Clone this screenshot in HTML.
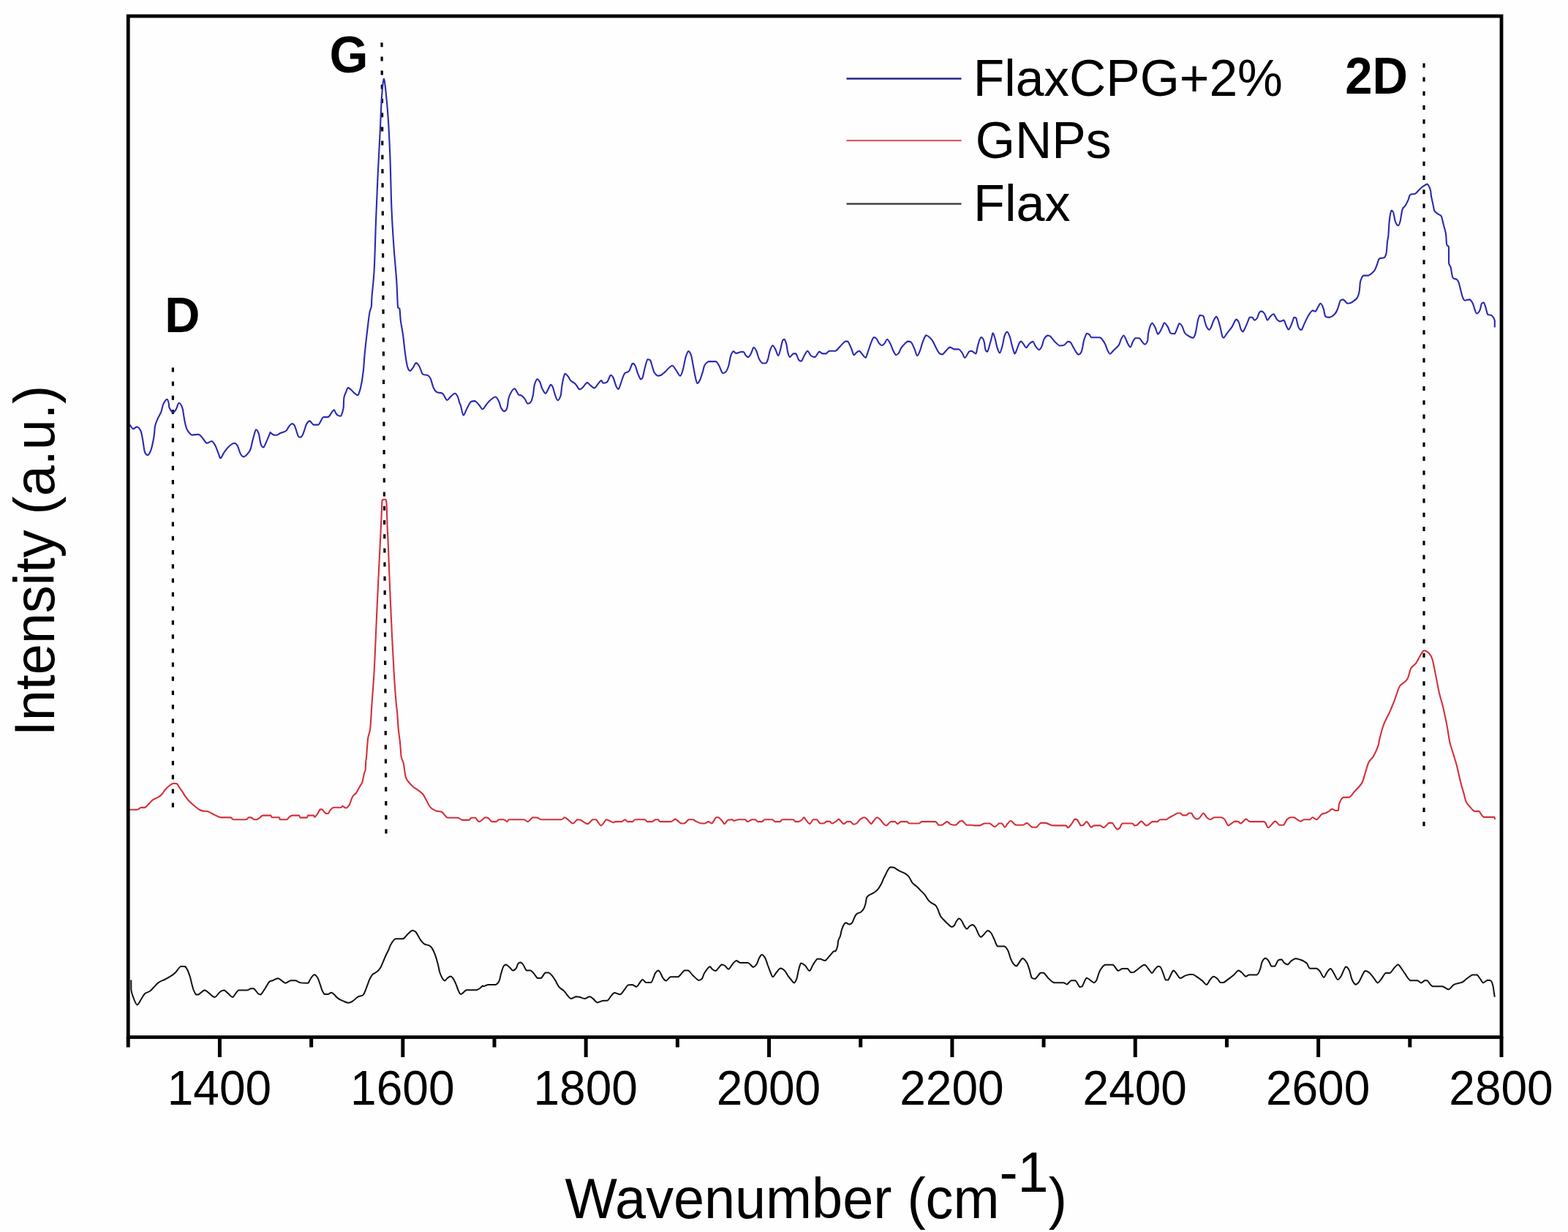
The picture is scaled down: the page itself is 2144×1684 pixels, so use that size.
<!DOCTYPE html>
<html><head><meta charset="utf-8"><title>Raman spectra</title>
<style>html,body{margin:0;padding:0;background:#fefefe;overflow:hidden}svg{display:block}</style>
</head><body><svg width="2144" height="1684" viewBox="0 0 2144 1684" font-family="Liberation Sans, Arial, sans-serif"><rect x="0" y="0" width="2144" height="1684" fill="#fefefe"/><line x1="236.4" y1="502.4" x2="236.4" y2="1106.0" stroke="#000" stroke-width="3.2" stroke-dasharray="6 13.2"/><line x1="522.0" y1="58.2" x2="528.0" y2="1140.0" stroke="#000" stroke-width="3.2" stroke-dasharray="6 13.2"/><line x1="1947.0" y1="86.4" x2="1947.0" y2="1130.0" stroke="#000" stroke-width="3.2" stroke-dasharray="6 13.2"/><path d="M177.5 580.6C178.2 581.6 180.5 585.8 182.1 586.2C183.8 586.2 185.5 583.4 187.3 583.4C189.0 583.9 191.1 586.1 192.4 589.0C193.7 592.0 194.3 596.3 195.2 601.2C196.1 606.0 196.8 614.4 198.0 617.9C199.2 621.4 200.8 622.1 202.2 622.1C203.6 621.7 205.2 618.2 206.4 615.1C207.5 612.1 208.4 607.7 209.2 604.0C210.0 600.2 210.6 596.3 211.0 592.8C211.5 589.2 211.2 585.9 212.0 582.5C212.8 579.1 214.3 575.5 215.7 572.2C217.1 569.0 219.1 566.2 220.4 562.9C221.6 559.6 221.9 555.5 223.2 552.6C224.5 549.8 227.1 546.0 228.3 545.7C229.5 545.7 230.1 548.8 230.6 550.8C231.2 552.7 230.6 555.1 231.6 557.3C232.6 559.5 235.1 563.5 236.7 563.8C238.3 563.8 239.6 561.4 240.9 559.2C242.2 557.0 243.2 551.1 244.6 550.8C246.0 550.8 248.2 554.5 249.3 557.3C250.4 560.1 250.5 564.2 251.2 567.6C251.8 571.0 252.2 574.6 253.0 577.8C253.8 581.1 254.3 584.4 255.8 587.2C257.4 590.0 259.7 593.5 262.4 594.6C265.0 594.6 269.2 593.7 271.7 593.7C274.2 594.5 275.4 597.3 277.3 599.3C279.1 601.3 280.9 605.2 282.9 605.8C284.9 605.8 287.5 603.0 289.4 603.0C291.3 603.5 292.5 605.8 294.1 608.6C295.6 611.4 297.5 616.9 298.7 619.8C300.0 622.8 300.3 626.3 301.5 626.3C302.8 626.2 304.5 621.4 306.2 618.9C307.9 616.4 309.5 613.6 311.8 611.4C314.1 609.2 318.0 606.1 320.2 605.8C322.4 605.8 323.5 607.2 324.9 609.6C326.2 611.9 327.2 617.3 328.6 619.8C330.0 622.3 331.1 624.5 333.2 624.5C335.4 623.9 339.6 619.8 341.6 616.1C343.7 612.4 344.0 606.9 345.4 602.1C346.8 597.3 348.6 588.7 350.0 587.2C351.4 587.2 352.7 589.5 353.8 592.8C354.9 596.0 355.5 603.6 356.6 606.8C357.7 609.9 358.9 611.4 360.3 611.4C361.7 610.6 363.4 605.5 365.0 602.1C366.5 598.7 368.8 592.7 369.6 590.9C369.7 590.9 369.6 590.9 369.7 591.4C370.6 592.1 373.3 594.3 374.9 594.8C376.5 594.8 377.9 594.8 379.4 594.4C380.9 593.9 381.9 592.7 383.9 591.8C385.9 590.9 389.5 590.3 391.3 588.8C393.2 587.3 393.7 584.5 395.1 582.8C396.4 581.2 398.3 579.4 399.6 579.1C400.8 579.1 401.5 579.6 402.5 581.3C403.5 583.1 404.7 587.1 405.5 589.6C406.4 592.0 406.9 594.9 407.8 596.3C408.6 597.6 409.8 597.8 410.7 597.8C411.7 597.5 412.7 596.6 413.7 594.8C414.7 592.9 415.8 589.1 416.7 586.6C417.6 584.1 417.8 581.7 419.0 579.9C420.1 578.0 421.8 575.4 423.4 575.4C425.0 575.5 426.7 579.7 428.7 580.6C430.6 580.6 433.6 580.6 435.4 580.6C437.1 579.6 438.0 576.4 439.1 574.6C440.2 572.9 440.5 570.9 442.1 570.1C443.7 570.1 446.7 570.1 448.8 570.1C450.9 568.8 453.4 563.6 454.8 561.9C456.1 560.4 456.3 560.4 457.0 560.4C457.8 560.9 458.4 563.7 459.3 564.9C460.1 566.2 461.1 567.3 462.2 567.9C463.4 568.5 465.0 568.7 466.0 568.7C467.0 567.9 467.6 565.4 468.2 563.4C468.8 561.4 469.3 560.1 469.7 556.7C470.1 553.4 469.8 546.9 470.4 543.3C471.1 539.7 472.6 537.3 473.4 535.1C474.3 532.8 474.7 530.3 475.7 529.9C476.7 529.9 478.0 531.0 479.4 532.1C480.8 533.2 482.3 535.2 483.9 536.6C485.5 537.9 487.7 540.3 489.1 540.3C490.5 539.8 491.2 536.3 492.1 533.6C493.0 530.8 493.9 525.8 494.3 523.9C494.7 522.3 494.3 523.9 494.7 522.3C495.1 519.2 496.3 511.5 497.0 505.3C497.6 499.2 497.9 492.2 498.5 485.3C499.2 478.3 500.1 470.6 500.8 463.7C501.6 456.7 502.4 449.8 503.2 443.6C503.9 437.4 504.7 430.7 505.5 426.6C506.2 422.5 507.3 422.7 507.8 418.9C508.3 415.1 507.9 412.5 508.6 404.0C509.3 395.5 510.8 385.0 511.7 368.0C512.6 351.0 513.2 323.3 514.0 302.0C514.8 280.7 515.6 260.3 516.6 240.0C517.6 219.7 518.8 198.2 519.7 180.0C520.6 161.8 521.2 143.0 522.1 131.0C523.0 119.0 523.9 109.1 524.8 107.8C525.7 107.8 526.3 114.1 527.3 123.0C528.3 131.9 529.7 145.7 530.7 161.0C531.7 176.3 532.6 194.0 533.4 215.0C534.2 236.0 534.6 266.3 535.5 287.0C536.4 307.7 537.5 323.0 538.6 339.0C539.7 355.0 541.3 369.4 542.2 383.0C543.1 396.6 543.4 413.9 544.1 420.4C544.8 422.0 545.7 420.4 546.4 422.0C547.0 425.1 547.2 433.0 547.9 439.0C548.7 444.9 550.1 451.0 551.0 457.5C551.9 463.9 552.6 471.4 553.3 477.6C554.1 483.7 554.9 490.2 555.7 494.5C556.4 498.9 557.1 501.7 558.0 503.8C558.9 505.9 559.9 506.9 561.1 506.9C562.2 506.6 563.6 504.1 564.9 502.3C566.2 500.5 567.4 496.3 568.8 496.1C570.2 496.1 571.9 498.1 573.4 500.7C575.0 503.3 576.1 509.5 578.0 511.5C580.0 513.1 583.2 512.0 585.0 513.1C586.8 514.1 587.6 514.9 588.8 517.7C590.1 520.5 591.3 527.0 592.7 530.0C594.1 533.1 595.3 534.9 597.3 536.2C599.4 537.5 602.7 536.2 605.1 537.8C607.4 539.6 609.4 546.3 611.2 547.0C613.0 547.0 614.1 543.9 615.9 542.4C617.7 540.9 620.4 537.8 622.0 537.8C623.7 537.8 624.9 540.3 625.9 542.4C626.9 544.5 627.5 548.1 628.2 550.1C628.9 552.2 629.1 551.7 630.0 554.6C630.9 557.6 632.3 567.1 633.7 567.7C635.1 567.7 636.7 561.5 638.4 558.4C640.1 555.2 642.1 550.7 644.0 549.0C645.9 548.1 647.7 548.1 649.6 548.1C651.5 548.9 653.5 551.8 655.2 553.7C656.9 555.6 658.3 559.3 659.9 559.3C661.4 559.3 662.8 555.7 664.5 553.7C666.2 551.7 667.9 549.0 670.1 547.2C672.3 545.3 675.6 542.5 677.6 542.5C679.6 542.8 681.0 546.5 682.2 549.0C683.5 551.5 683.8 555.2 685.0 557.4C686.3 559.6 688.3 562.1 689.7 562.1C691.1 562.1 692.5 560.2 693.4 557.4C694.4 554.6 694.4 548.9 695.3 545.3C696.2 541.7 697.6 538.3 699.0 536.0C700.4 533.6 702.0 531.3 703.7 531.3C705.4 531.9 707.7 538.1 709.3 539.7C710.8 540.6 711.6 539.7 713.0 540.6C714.4 541.6 716.3 543.4 717.7 545.3C719.1 547.2 720.0 551.2 721.4 551.8C722.8 551.8 724.8 551.1 726.1 549.0C727.3 547.0 728.1 543.4 728.9 539.7C729.7 536.0 729.8 530.2 730.7 526.6C731.7 523.1 733.2 519.0 734.5 518.2C735.7 518.2 737.1 520.0 738.2 522.0C739.3 524.0 739.8 527.7 741.0 530.4C742.3 533.0 744.3 537.5 745.7 537.8C747.1 537.8 748.2 534.3 749.4 532.2C750.6 530.2 752.0 526.2 753.1 525.7C754.2 525.7 755.0 527.3 755.9 529.4C756.9 531.6 757.6 535.8 758.7 538.8C759.8 541.7 761.1 546.9 762.5 547.2C763.8 547.2 765.7 543.6 766.7 540.6C767.6 537.7 767.5 533.0 768.1 529.4C768.6 525.9 769.1 522.3 769.9 519.2C770.7 516.1 771.5 511.4 772.7 510.8C774.0 510.8 776.1 513.9 777.4 515.4C778.6 517.0 778.6 518.6 780.2 520.1C781.7 521.7 784.7 522.8 786.7 524.8C788.7 526.8 790.6 531.5 792.3 532.2C794.0 532.2 795.3 531.0 797.0 529.4C798.7 527.9 800.9 523.4 802.6 522.9C804.3 522.9 805.5 525.4 807.2 526.6C808.9 527.9 811.0 530.4 812.8 530.4C814.7 529.9 816.9 525.6 818.4 523.8C820.0 522.1 821.1 520.1 822.2 520.1C823.3 520.1 823.6 523.5 825.0 523.8C826.3 523.8 828.6 523.8 830.3 522.1C831.9 520.2 833.5 513.7 834.9 512.8C836.3 512.8 837.4 514.0 838.7 516.5C839.9 519.0 841.2 525.1 842.4 527.7C843.6 530.3 844.6 531.9 845.7 531.9C846.7 531.3 847.9 526.7 848.9 524.0C849.9 521.2 850.8 517.9 851.7 515.6C852.6 513.2 853.1 511.4 854.5 510.0C855.9 508.6 858.4 509.3 860.1 507.2C861.8 505.0 863.4 498.1 864.8 496.9C866.2 496.9 867.3 497.4 868.5 499.7C869.8 502.0 871.0 507.8 872.2 510.9C873.5 514.0 874.9 517.6 876.0 518.4C877.1 518.4 877.8 518.0 878.8 515.6C879.7 513.1 880.5 507.5 881.6 503.4C882.7 499.4 884.1 493.2 885.3 491.3C886.5 491.3 887.9 491.3 889.0 492.2C890.1 493.8 890.9 497.8 891.8 500.6C892.8 503.4 893.4 506.9 894.6 509.0C895.9 511.2 897.7 513.1 899.3 513.7C900.8 513.7 902.2 513.7 904.0 512.8C905.7 511.8 907.1 510.3 909.6 508.1C912.0 505.9 916.4 500.0 918.9 499.7C921.4 499.7 922.6 503.9 924.5 506.2C926.3 508.6 928.5 513.7 930.1 513.7C931.6 513.5 932.6 509.5 933.8 505.3C935.0 501.1 936.3 492.7 937.5 488.5C938.8 484.3 940.0 480.6 941.3 480.1C942.5 480.1 943.9 482.4 945.0 485.7C946.1 489.0 946.9 494.9 947.8 499.7C948.7 504.5 949.7 510.6 950.6 514.6C951.5 518.7 952.3 523.2 953.4 524.0C954.5 524.0 955.9 521.9 957.1 519.3C958.4 516.6 959.8 511.5 960.9 508.1C961.9 504.7 962.3 501.1 963.7 498.8C965.1 496.4 966.8 494.9 969.3 494.1C971.7 494.1 976.2 494.1 978.6 494.1C980.9 495.0 981.7 497.1 983.2 499.7C984.8 502.3 986.4 508.6 987.9 510.0C989.5 510.0 991.2 509.8 992.6 508.1C994.0 506.4 995.2 503.3 996.3 499.7C997.4 496.1 998.0 489.9 999.1 486.6C1000.2 483.4 1001.6 480.7 1002.8 480.1C1004.1 480.1 1004.9 482.8 1006.6 482.9C1008.3 482.9 1011.4 481.4 1013.1 481.0C1014.8 481.0 1015.7 481.0 1016.8 481.0C1017.9 481.8 1018.6 484.5 1019.6 485.7C1020.7 486.9 1021.9 488.1 1023.1 488.1C1024.3 487.7 1025.5 485.6 1026.8 483.4C1028.0 481.3 1029.3 475.7 1030.5 475.0C1031.8 475.0 1033.0 477.1 1034.3 479.7C1035.5 482.3 1036.6 488.1 1038.0 490.9C1039.4 493.7 1041.1 495.6 1042.6 496.5C1044.2 496.5 1046.1 496.5 1047.3 496.5C1048.6 495.6 1049.2 493.8 1050.1 490.9C1051.0 487.9 1051.8 481.9 1052.9 478.8C1054.0 475.7 1055.4 472.4 1056.6 472.2C1057.9 472.2 1059.1 475.5 1060.4 477.8C1061.6 480.2 1063.0 486.1 1064.1 486.2C1065.2 486.2 1066.0 482.0 1066.9 478.8C1067.8 475.5 1068.8 469.1 1069.7 466.6C1070.6 464.2 1071.6 463.8 1072.5 463.8C1073.4 464.5 1074.5 467.4 1075.3 470.4C1076.1 473.3 1076.4 478.6 1077.2 481.6C1077.9 484.5 1078.7 487.8 1080.0 488.1C1081.2 488.1 1083.2 484.2 1084.6 483.4C1086.0 483.4 1087.1 483.4 1088.4 483.4C1089.6 484.8 1090.8 490.1 1092.1 491.8C1093.3 493.5 1094.6 493.7 1095.8 493.7C1097.1 492.8 1098.2 488.6 1099.6 486.2C1101.0 483.9 1102.7 479.7 1104.2 479.7C1105.8 479.7 1107.2 484.8 1108.9 486.2C1110.6 487.6 1112.6 488.1 1114.5 488.1C1116.3 487.2 1118.4 481.4 1120.1 480.6C1121.8 480.6 1123.2 483.0 1124.7 483.4C1126.3 483.4 1127.8 483.4 1129.4 483.4C1131.0 482.8 1131.9 480.3 1134.1 479.7C1136.2 479.7 1140.0 479.7 1142.5 479.7C1145.0 478.6 1146.8 475.3 1149.0 473.2C1151.2 471.0 1153.8 467.7 1155.5 466.6C1157.2 466.6 1157.9 466.6 1159.3 466.6C1160.7 468.2 1162.5 472.9 1163.9 476.0C1165.3 479.1 1166.4 484.4 1167.6 485.3C1168.9 485.3 1170.1 482.5 1171.4 481.6C1172.6 480.6 1173.7 479.7 1175.1 479.7C1176.5 480.3 1178.4 483.7 1179.8 485.3C1181.2 486.9 1182.3 489.0 1183.5 489.0C1184.8 488.1 1186.0 483.1 1187.2 479.7C1188.5 476.3 1189.7 471.6 1191.0 468.5C1192.2 465.4 1193.5 462.0 1194.7 461.0C1195.9 461.0 1197.2 461.5 1198.4 462.9C1199.7 464.3 1200.9 467.9 1202.2 469.4C1203.4 471.0 1204.7 472.2 1205.9 472.2C1207.1 472.2 1208.4 470.8 1209.6 469.4C1210.8 468.0 1211.7 463.8 1213.1 463.8C1214.4 464.0 1216.3 467.7 1217.7 470.4C1219.1 473.0 1220.2 477.2 1221.5 479.7C1222.7 482.2 1223.9 484.8 1225.2 485.3C1226.4 485.3 1227.7 484.2 1228.9 482.5C1230.2 480.8 1230.6 477.7 1232.6 475.0C1234.7 472.4 1238.9 467.9 1241.0 466.6C1243.2 466.6 1244.2 466.6 1245.7 467.6C1247.3 469.3 1249.0 473.8 1250.4 476.9C1251.8 480.0 1252.9 485.8 1254.1 486.2C1255.3 486.2 1256.6 482.8 1257.8 479.7C1259.1 476.6 1260.2 471.2 1261.6 467.6C1263.0 464.0 1264.7 459.3 1266.2 458.2C1267.8 458.2 1269.3 459.6 1270.9 461.0C1272.5 462.4 1274.0 464.2 1275.6 466.6C1277.1 469.1 1278.8 473.3 1280.2 476.0C1281.6 478.6 1282.6 481.1 1284.0 482.5C1285.4 483.9 1287.1 484.4 1288.6 484.4C1290.2 483.9 1291.6 481.3 1293.3 479.7C1295.0 478.1 1297.0 475.0 1298.9 474.6C1300.7 474.6 1302.5 476.9 1304.5 477.4C1306.5 477.4 1309.1 477.4 1311.0 477.4C1312.9 478.2 1314.3 480.6 1315.7 482.5C1317.1 484.4 1317.8 489.0 1319.4 489.0C1321.0 488.7 1323.4 482.2 1325.0 480.6C1326.6 479.7 1327.2 479.7 1328.7 479.7C1330.3 480.2 1333.1 483.4 1334.3 483.4C1335.6 482.8 1335.4 478.9 1336.2 476.0C1337.0 473.0 1338.1 468.2 1339.0 465.7C1339.9 463.2 1340.7 461.0 1341.8 461.0C1342.9 461.2 1344.6 463.8 1345.5 466.6C1346.5 469.4 1346.6 475.5 1347.4 477.8C1348.2 480.2 1349.3 480.6 1350.2 480.6C1351.1 479.7 1352.1 475.3 1353.0 472.2C1353.9 469.1 1355.0 464.8 1355.8 462.0C1356.6 459.2 1356.9 455.4 1357.6 455.4C1358.4 455.4 1359.5 458.9 1360.4 462.0C1361.4 465.1 1362.2 470.7 1363.2 474.1C1364.3 477.5 1365.7 482.5 1367.0 482.5C1368.2 482.2 1369.6 476.1 1370.7 472.2C1371.8 468.4 1372.4 462.3 1373.5 459.2C1374.6 456.1 1376.0 453.6 1377.2 453.6C1378.5 453.9 1379.9 457.9 1381.0 461.0C1382.1 464.2 1382.7 468.5 1383.8 472.2C1384.9 476.0 1386.4 482.5 1387.5 483.4C1388.6 483.4 1389.4 480.0 1390.3 477.8C1391.2 475.7 1392.2 472.2 1393.1 470.4C1394.0 468.5 1394.8 466.6 1395.9 466.6C1397.0 466.6 1398.4 468.9 1399.6 470.4C1400.8 471.8 1401.7 475.3 1403.1 475.3C1404.4 475.2 1406.2 471.1 1407.7 469.7C1409.3 468.3 1411.0 466.9 1412.4 466.9C1413.8 467.5 1414.7 471.6 1416.1 473.4C1417.5 475.3 1419.4 478.1 1420.8 478.1C1422.2 478.1 1423.4 475.8 1424.5 473.4C1425.6 471.1 1426.1 466.6 1427.3 464.1C1428.6 461.6 1430.6 459.3 1432.0 458.5C1433.4 458.5 1434.0 458.5 1435.7 459.4C1437.4 460.8 1440.1 464.7 1442.2 466.9C1444.4 469.1 1446.6 471.7 1448.8 472.5C1450.9 472.5 1453.4 472.5 1455.3 471.6C1457.2 470.6 1458.6 467.5 1460.0 466.9C1461.4 466.9 1462.5 466.9 1463.7 467.8C1464.9 469.1 1466.2 472.2 1467.4 474.4C1468.7 476.5 1469.9 479.2 1471.2 480.9C1472.4 482.6 1473.6 484.6 1474.9 484.6C1476.1 484.6 1477.7 482.8 1478.6 480.9C1479.6 479.0 1479.9 476.2 1480.5 473.4C1481.1 470.6 1481.4 467.1 1482.4 464.1C1483.3 461.2 1484.8 456.8 1486.1 455.7C1487.3 455.7 1488.7 456.6 1489.8 457.6C1490.9 458.5 1490.3 460.7 1492.6 461.3C1494.9 461.3 1501.2 461.3 1503.8 461.3C1506.4 462.1 1507.2 464.4 1508.5 466.0C1509.7 467.5 1510.3 468.6 1511.3 470.6C1512.2 472.7 1513.0 475.9 1514.1 478.1C1515.2 480.3 1516.4 483.5 1517.8 483.7C1519.2 483.7 1520.4 481.1 1522.5 479.0C1524.5 477.0 1528.2 474.1 1529.9 471.6C1531.6 469.1 1531.6 466.3 1532.7 464.1C1533.8 461.9 1535.4 458.7 1536.5 458.5C1537.5 458.5 1538.3 461.3 1539.3 463.2C1540.2 465.0 1541.0 467.8 1542.1 469.7C1543.1 471.6 1544.7 474.4 1545.8 474.4C1546.9 474.1 1547.5 469.9 1548.6 467.8C1549.7 465.8 1550.8 463.2 1552.3 462.2C1553.9 462.2 1556.4 462.2 1557.9 462.2C1559.5 463.0 1560.4 465.5 1561.6 466.9C1562.9 468.3 1564.1 470.6 1565.4 470.6C1566.6 470.5 1568.3 468.3 1569.1 466.0C1569.9 463.6 1569.4 460.1 1570.0 456.6C1570.7 453.2 1571.9 447.9 1572.8 445.4C1573.8 443.0 1574.5 441.7 1575.6 441.7C1576.7 442.0 1578.1 444.8 1579.4 447.3C1580.6 449.8 1582.0 455.6 1583.1 456.6C1584.2 456.6 1584.8 455.6 1585.9 453.8C1587.0 452.1 1588.6 448.5 1589.6 446.4C1590.7 444.3 1590.9 441.3 1592.1 441.3C1593.3 441.4 1595.4 444.6 1596.8 446.9C1598.2 449.2 1599.0 453.7 1600.5 455.3C1602.1 456.2 1604.7 456.2 1606.1 456.2C1607.5 455.5 1607.8 453.0 1608.9 450.6C1610.0 448.3 1611.4 443.0 1612.6 442.2C1613.9 442.2 1615.1 443.8 1616.4 446.0C1617.6 448.1 1618.7 453.1 1620.1 455.3C1621.5 457.5 1622.9 457.9 1624.8 459.0C1626.6 460.1 1629.8 461.8 1631.3 461.8C1632.9 461.5 1633.3 459.3 1634.1 457.2C1634.9 455.0 1635.3 451.9 1636.0 448.8C1636.6 445.7 1637.1 441.5 1637.8 438.5C1638.6 435.6 1639.4 432.1 1640.6 431.0C1641.9 431.0 1644.2 431.0 1645.3 432.0C1646.4 433.2 1646.4 436.0 1647.2 438.5C1647.9 441.0 1648.9 444.9 1650.0 446.9C1651.1 448.9 1652.6 450.6 1653.7 450.6C1654.8 450.5 1655.6 448.0 1656.5 446.0C1657.4 443.9 1658.2 440.7 1659.3 438.5C1660.4 436.3 1661.9 433.1 1663.0 432.9C1664.1 432.9 1664.9 435.1 1665.8 437.6C1666.8 440.1 1667.7 444.1 1668.6 447.8C1669.6 451.6 1670.6 457.6 1671.4 460.0C1672.2 461.8 1672.2 461.8 1673.3 461.8C1674.4 461.1 1676.1 457.8 1677.9 455.3C1679.8 452.8 1682.5 450.0 1684.5 446.9C1686.5 443.8 1688.5 437.7 1690.1 436.6C1691.6 436.6 1692.7 438.2 1693.8 440.4C1694.9 442.5 1695.7 447.5 1696.6 449.7C1697.5 451.9 1698.3 453.4 1699.4 453.4C1700.5 453.0 1702.0 449.1 1703.1 446.9C1704.2 444.7 1705.0 442.5 1705.9 440.4C1706.9 438.2 1707.6 434.9 1708.7 433.8C1709.8 433.8 1711.4 433.8 1712.5 433.8C1713.6 434.5 1714.2 437.4 1715.3 437.6C1716.3 437.6 1717.9 436.5 1719.0 434.8C1720.1 433.1 1720.7 428.9 1721.8 427.3C1722.9 425.8 1724.3 425.4 1725.5 425.4C1726.8 425.8 1728.0 427.2 1729.3 429.2C1730.5 431.2 1731.7 437.0 1733.0 437.6C1734.2 437.6 1735.3 434.3 1736.7 432.9C1738.1 431.5 1739.8 429.2 1741.4 429.2C1742.9 429.8 1744.5 434.9 1746.0 436.6C1747.6 438.4 1749.2 439.3 1750.7 439.4C1752.3 439.4 1754.0 437.6 1755.4 437.6C1756.8 438.7 1758.0 443.8 1759.1 446.0C1760.2 448.1 1760.8 450.6 1761.9 450.6C1763.0 450.3 1764.4 446.9 1765.6 444.1C1766.9 441.3 1768.3 435.4 1769.4 433.8C1770.5 433.8 1771.2 433.8 1772.2 434.8C1773.1 436.8 1774.0 443.3 1775.0 446.0C1775.9 448.6 1776.9 449.9 1777.8 450.6C1778.6 450.6 1779.0 450.6 1780.0 450.6C1781.0 449.2 1782.1 445.4 1783.7 442.1C1785.2 438.9 1787.3 434.2 1789.1 431.2C1790.9 428.3 1793.0 425.3 1794.6 424.4C1796.2 424.4 1796.9 425.7 1798.7 425.7C1800.5 424.2 1803.7 415.5 1805.5 414.8C1807.3 414.8 1808.5 418.7 1809.6 421.7C1810.7 424.6 1811.0 430.5 1812.3 432.6C1813.7 433.9 1815.8 433.9 1817.8 433.9C1819.9 433.5 1822.8 431.7 1824.6 429.8C1826.5 428.0 1827.4 426.2 1828.7 423.0C1830.1 419.8 1831.5 413.0 1832.8 410.7C1834.2 409.4 1835.3 409.4 1836.9 409.4C1838.5 410.0 1840.6 414.1 1842.4 414.8C1844.2 414.8 1845.6 414.8 1847.9 413.5C1850.1 412.1 1854.2 409.4 1856.0 406.6C1857.9 403.9 1858.1 400.7 1858.8 397.1C1859.5 393.4 1859.2 388.2 1860.1 384.8C1861.1 381.4 1862.4 377.9 1864.2 376.6C1866.1 376.6 1868.6 376.6 1871.1 376.6C1873.6 375.4 1877.2 372.5 1879.3 369.8C1881.3 367.0 1882.2 362.9 1883.4 360.2C1884.5 357.5 1884.5 354.7 1886.1 353.4C1887.7 352.0 1891.3 353.4 1892.9 352.0C1894.5 350.6 1895.0 348.8 1895.7 345.2C1896.3 341.5 1896.6 334.0 1897.0 330.1C1897.5 326.3 1897.9 326.7 1898.4 321.9C1898.8 317.2 1899.1 307.2 1899.8 301.5C1900.4 295.8 1901.6 289.6 1902.5 287.8C1903.4 287.8 1904.3 288.0 1905.2 290.5C1906.1 293.0 1906.8 299.9 1907.9 302.8C1909.1 305.8 1910.9 308.3 1912.0 308.3C1913.2 308.1 1913.9 305.1 1914.8 301.5C1915.7 297.8 1916.4 289.9 1917.5 286.4C1918.6 283.0 1920.2 283.3 1921.6 281.0C1923.0 278.7 1924.6 275.3 1925.7 272.8C1926.8 270.3 1926.8 267.3 1928.4 266.0C1930.0 264.6 1933.0 266.0 1935.3 264.6C1937.5 263.2 1940.0 259.6 1942.1 257.8C1944.1 255.9 1946.0 254.7 1947.6 253.7C1949.1 252.6 1950.3 251.6 1951.7 251.6C1953.0 252.5 1954.8 256.3 1955.7 259.1C1956.7 262.0 1956.4 265.0 1957.1 268.7C1957.8 272.3 1959.2 277.8 1959.8 281.0C1960.5 284.2 1960.3 286.0 1961.2 287.8C1962.1 289.6 1963.9 290.8 1965.3 291.9C1966.8 293.0 1968.9 293.7 1970.0 294.6C1971.0 295.5 1970.7 295.1 1971.4 297.4C1972.1 299.6 1973.2 304.6 1974.1 308.3C1975.1 311.9 1976.2 314.9 1976.9 319.2C1977.6 323.5 1977.6 331.1 1978.2 334.2C1978.9 337.4 1980.5 334.2 1981.0 338.3C1981.0 342.4 1981.0 354.3 1981.0 358.8C1981.4 363.4 1982.8 362.2 1983.7 365.7C1984.6 369.1 1985.1 376.6 1986.4 379.3C1987.8 382.0 1990.5 380.9 1991.9 382.0C1993.3 383.2 1993.7 383.6 1994.6 386.1C1995.5 388.6 1996.5 393.7 1997.4 397.1C1998.3 400.5 1999.2 404.4 2000.1 406.6C2001.0 408.9 2001.2 410.3 2002.8 410.7C2004.4 410.7 2007.8 409.4 2009.7 409.4C2011.5 410.0 2012.6 412.5 2013.8 414.8C2014.9 417.1 2015.6 420.7 2016.5 423.0C2017.4 425.3 2018.1 428.3 2019.2 428.5C2020.4 428.5 2022.2 426.7 2023.3 424.4C2024.5 422.1 2025.1 416.6 2026.0 414.8C2027.0 413.5 2027.9 413.5 2028.8 413.5C2029.7 414.4 2030.6 417.6 2031.5 420.3C2032.4 423.0 2032.9 428.0 2034.2 429.8C2035.6 431.2 2038.1 429.8 2039.7 431.2C2041.3 432.6 2043.1 435.3 2043.8 438.0C2043.8 440.8 2043.8 446.0 2043.8 447.6" fill="none" stroke="#2a2ab0" stroke-width="2.1" stroke-linejoin="round"/><path d="M176.5 1106.7C178.4 1106.7 185.1 1106.7 187.7 1106.7C190.4 1106.2 190.7 1104.4 192.4 1103.9C194.1 1103.9 196.3 1103.9 198.0 1103.9C199.7 1103.2 200.8 1101.5 202.6 1099.7C204.5 1097.9 206.8 1094.9 209.2 1093.2C211.5 1091.5 214.6 1090.7 216.6 1089.4C218.7 1088.2 219.8 1087.4 221.3 1085.7C222.9 1084.0 224.3 1081.1 226.0 1079.2C227.7 1077.2 229.7 1075.4 231.6 1074.0C233.4 1072.6 235.5 1071.2 237.2 1070.8C238.9 1070.8 240.6 1070.8 241.8 1071.2C243.1 1072.0 243.4 1073.7 244.6 1075.4C245.9 1077.2 247.7 1079.6 249.3 1082.0C250.8 1084.3 252.2 1087.1 254.0 1089.4C255.7 1091.8 257.4 1093.8 259.6 1096.0C261.7 1098.1 264.8 1100.7 267.0 1102.5C269.2 1104.3 270.7 1105.7 272.6 1106.7C274.5 1107.7 276.3 1108.2 278.2 1108.6C280.1 1109.0 281.9 1108.6 283.8 1109.0C285.7 1109.6 287.5 1110.9 289.4 1111.8C291.3 1112.8 292.8 1113.7 295.0 1114.6C297.2 1115.6 299.0 1117.0 302.5 1117.4C305.9 1117.4 312.7 1117.4 315.5 1117.4C318.3 1117.9 315.8 1119.8 319.3 1120.2C322.7 1120.2 332.6 1120.2 336.0 1120.2C339.5 1119.8 338.5 1117.9 339.8 1117.4C341.0 1117.4 342.3 1117.4 343.5 1117.4C344.8 1117.9 346.0 1119.8 347.2 1120.2C348.5 1120.2 349.6 1120.2 351.0 1120.2C352.4 1119.8 354.2 1118.4 355.6 1117.4C357.0 1116.5 357.0 1115.1 359.4 1114.6C361.8 1114.6 368.2 1114.6 370.0 1114.6C370.4 1114.6 370.1 1114.6 370.4 1114.6C370.8 1115.1 370.4 1116.8 371.9 1117.2C373.8 1117.2 379.8 1117.2 381.6 1117.2C383.1 1117.7 381.6 1119.7 383.1 1120.2C384.9 1120.2 390.1 1120.2 392.1 1120.2C394.1 1119.7 393.8 1118.2 395.1 1117.2C396.3 1116.3 397.3 1115.1 399.6 1114.6C401.8 1114.6 406.6 1114.6 408.5 1114.6C410.4 1115.1 408.9 1117.1 410.7 1117.6C412.6 1117.6 418.0 1117.6 419.7 1117.6C421.2 1117.1 419.7 1115.1 421.2 1114.6C422.7 1114.6 427.2 1114.6 428.7 1114.6C430.1 1115.0 429.2 1116.9 430.1 1116.9C431.1 1116.4 433.4 1113.4 434.6 1111.6C435.9 1109.9 436.6 1107.3 437.6 1106.4C438.6 1106.4 439.6 1106.4 440.6 1106.4C441.6 1107.0 442.7 1109.2 443.6 1110.1C444.5 1111.1 445.0 1111.7 445.8 1112.0C446.7 1112.0 447.8 1112.0 448.8 1112.0C449.8 1111.2 450.5 1108.5 451.8 1107.2C453.0 1105.8 453.9 1104.4 456.3 1103.8C458.6 1103.8 464.0 1103.8 466.0 1103.8C468.0 1103.5 467.2 1101.9 468.2 1101.9C469.2 1102.0 470.9 1103.8 471.9 1104.2C472.9 1104.2 473.2 1104.2 474.2 1104.2C475.2 1103.4 476.9 1101.4 477.9 1099.7C478.9 1098.0 479.4 1095.6 480.1 1093.7C480.9 1091.9 481.3 1090.1 482.4 1088.5C483.5 1086.9 485.6 1085.6 486.9 1084.0C488.1 1082.4 488.9 1080.5 489.9 1078.8C490.8 1077.1 492.0 1075.1 492.8 1073.6C493.7 1072.1 494.5 1071.5 495.1 1069.9C495.7 1068.2 496.1 1066.1 496.6 1063.9C497.1 1061.6 497.6 1058.3 498.1 1056.4C498.6 1054.6 499.2 1055.4 499.6 1052.7C499.9 1050.0 500.1 1042.5 500.3 1040.0C500.5 1037.5 500.3 1040.0 500.8 1037.5C501.3 1032.4 502.2 1016.6 503.1 1009.7C504.0 1002.8 505.3 1003.9 506.2 996.0C507.1 988.1 507.6 975.0 508.5 962.0C509.4 949.0 510.7 933.7 511.6 918.0C512.5 902.3 513.1 885.7 513.9 868.0C514.7 850.3 515.5 830.8 516.4 812.0C517.3 793.2 518.3 772.8 519.2 755.0C520.1 737.2 521.0 716.8 521.6 705.0C522.2 693.2 522.1 687.7 522.6 684.0C523.1 682.8 523.7 683.0 524.5 682.8C525.3 682.8 526.8 682.8 527.5 682.8C528.2 684.0 528.2 683.8 528.6 690.0C529.0 696.2 529.3 711.7 529.6 720.0C529.9 728.3 530.1 727.3 530.6 740.0C531.1 752.7 531.9 774.8 532.8 796.0C533.7 817.2 534.9 846.7 535.9 867.0C536.9 887.3 537.7 902.8 538.6 918.0C539.5 933.2 540.6 948.4 541.4 958.0C542.2 967.6 542.7 969.2 543.3 975.7C543.8 982.3 544.2 990.6 544.8 997.3C545.5 1004.0 546.5 1009.7 547.1 1015.9C547.8 1022.0 547.9 1029.8 548.7 1034.4C549.4 1039.0 550.7 1039.0 551.8 1043.7C552.8 1048.3 553.6 1057.8 554.8 1062.2C556.1 1066.6 557.7 1067.6 559.5 1069.9C561.3 1072.2 563.9 1074.5 565.7 1076.1C567.5 1077.6 568.2 1077.6 570.3 1079.2C572.3 1080.7 575.9 1083.0 578.0 1085.3C580.1 1087.7 580.8 1090.0 582.6 1093.1C584.4 1096.2 586.5 1101.3 588.8 1103.9C591.1 1106.4 594.0 1107.5 596.5 1108.5C599.1 1109.5 601.7 1108.5 604.3 1110.0C606.8 1111.6 608.4 1116.5 612.0 1117.8C615.6 1117.8 622.5 1117.8 625.9 1117.8C629.2 1118.3 629.5 1120.3 632.0 1120.9C634.6 1120.9 639.2 1120.9 641.3 1120.9C643.4 1120.3 643.0 1118.3 644.4 1117.8C645.8 1117.8 648.2 1117.8 650.0 1117.8C651.7 1118.7 652.9 1123.1 655.2 1123.1C657.4 1123.1 661.2 1118.1 663.3 1117.3C665.5 1117.3 666.4 1117.5 668.0 1118.5C669.5 1119.5 670.9 1122.4 672.6 1123.1C674.4 1123.1 676.9 1123.1 678.5 1123.1C680.0 1122.7 680.2 1120.7 682.0 1120.2C683.7 1120.2 687.0 1120.2 689.0 1120.2C690.9 1120.7 692.5 1123.1 693.6 1123.1C694.8 1123.1 693.6 1120.7 696.0 1120.2C699.7 1120.2 711.5 1120.2 715.8 1120.2C720.1 1120.7 719.5 1123.1 721.6 1123.1C723.8 1122.7 726.3 1118.2 728.6 1117.3C731.0 1117.3 733.7 1117.4 735.6 1117.9C737.6 1118.4 735.6 1119.8 740.3 1120.2C745.5 1120.2 761.9 1120.2 767.1 1120.2C771.8 1119.7 770.2 1117.3 771.8 1117.3C773.3 1117.3 774.5 1118.9 776.4 1120.2C778.4 1121.6 781.3 1125.5 783.4 1125.5C785.6 1125.5 787.5 1121.0 789.3 1120.2C791.0 1120.2 791.6 1120.2 793.9 1120.8C796.2 1121.8 800.5 1126.1 803.2 1126.1C806.0 1126.0 808.3 1121.2 810.2 1120.2C812.2 1120.2 813.0 1120.2 814.9 1120.2C816.9 1121.6 819.6 1128.4 821.9 1128.4C824.2 1128.4 827.0 1121.3 828.9 1120.2C830.8 1120.2 832.0 1121.3 833.6 1122.0C835.1 1122.7 836.9 1124.1 838.2 1124.3C839.6 1124.3 839.8 1123.3 841.7 1123.1C843.7 1123.1 847.8 1123.1 849.9 1123.1C852.0 1122.7 853.2 1120.2 854.6 1120.2C855.9 1120.2 856.3 1122.7 858.1 1123.1C859.8 1123.1 863.3 1123.1 865.0 1123.1C866.8 1122.7 865.8 1120.7 868.5 1120.2C871.3 1120.2 878.7 1120.2 881.4 1120.2C884.1 1120.7 883.4 1122.7 884.9 1123.1C886.3 1123.1 888.9 1123.1 890.0 1123.1C891.1 1123.1 890.6 1123.1 891.7 1123.1C892.7 1122.7 895.0 1120.7 896.3 1120.2C897.7 1120.2 898.7 1120.2 899.8 1120.2C901.0 1120.7 900.4 1122.7 903.3 1123.1C906.2 1123.1 914.0 1123.1 917.3 1123.1C920.6 1122.6 921.6 1119.8 923.1 1119.6C924.7 1119.6 925.3 1121.0 926.6 1122.0C928.0 1122.9 929.8 1124.9 931.3 1125.5C932.9 1125.5 934.2 1125.5 936.0 1125.5C937.7 1124.6 939.9 1121.1 941.8 1120.2C943.7 1120.2 945.9 1120.2 947.6 1120.2C949.4 1120.7 950.4 1122.3 952.3 1123.1C954.2 1124.0 957.3 1125.1 959.3 1125.5C961.2 1125.5 962.4 1125.5 964.0 1125.5C965.5 1125.1 967.1 1123.1 968.6 1123.1C970.2 1123.1 971.5 1125.5 973.3 1125.5C975.0 1124.5 977.6 1118.7 979.1 1117.3C980.7 1117.3 981.3 1117.3 982.6 1117.3C984.0 1118.1 985.9 1120.5 987.3 1122.0C988.6 1123.4 989.4 1126.1 990.8 1126.1C992.1 1125.9 993.7 1121.8 995.4 1120.8C997.2 1120.2 999.9 1120.2 1001.3 1120.2C1002.6 1120.4 1002.2 1122.0 1003.6 1122.0C1005.0 1122.0 1006.9 1120.5 1009.4 1120.2C1012.0 1120.2 1016.6 1120.2 1018.8 1120.2C1020.9 1120.7 1020.7 1123.1 1022.3 1123.1C1023.8 1123.1 1026.3 1120.7 1028.1 1120.2C1029.8 1120.2 1031.4 1120.2 1032.8 1120.2C1034.1 1120.7 1034.7 1122.7 1036.2 1123.1C1037.8 1123.1 1040.5 1123.1 1042.1 1123.1C1043.6 1122.7 1043.2 1120.7 1045.6 1120.2C1047.9 1120.2 1053.7 1120.2 1056.1 1120.2C1058.4 1120.7 1057.8 1122.7 1059.6 1123.1C1061.3 1123.1 1064.8 1123.1 1066.6 1123.1C1068.3 1122.7 1067.2 1120.7 1070.1 1120.2C1073.0 1120.2 1081.1 1120.2 1084.1 1120.2C1087.0 1120.7 1086.2 1122.7 1087.6 1123.1C1088.9 1123.1 1090.7 1123.1 1092.2 1123.1C1093.8 1122.7 1095.7 1121.2 1096.9 1120.2C1098.1 1119.3 1098.1 1117.3 1099.2 1117.3C1100.4 1117.8 1102.5 1121.7 1103.9 1123.1C1105.2 1124.6 1106.0 1126.1 1107.4 1126.1C1108.7 1125.6 1110.5 1121.2 1112.0 1120.2C1113.6 1120.2 1115.2 1120.2 1116.7 1120.2C1118.3 1121.1 1119.8 1124.6 1121.4 1125.5C1122.9 1125.5 1124.6 1125.5 1126.0 1125.5C1127.5 1125.1 1129.3 1123.6 1130.0 1123.1C1130.5 1122.7 1130.0 1122.6 1130.5 1122.6C1131.4 1122.6 1134.0 1122.7 1135.2 1123.1C1136.3 1123.6 1136.1 1125.5 1137.5 1125.5C1138.9 1125.4 1141.8 1123.5 1143.3 1122.6C1144.9 1121.6 1145.7 1119.6 1146.8 1119.6C1148.0 1119.7 1149.2 1122.1 1150.3 1123.1C1151.5 1124.2 1152.5 1126.1 1153.8 1126.1C1155.2 1126.1 1156.9 1123.6 1158.5 1123.1C1160.0 1123.1 1161.8 1123.1 1163.1 1123.1C1164.5 1123.7 1165.3 1126.3 1166.6 1126.6C1168.0 1126.6 1169.8 1126.5 1171.3 1125.5C1172.9 1124.4 1174.2 1121.6 1176.0 1120.2C1177.7 1118.9 1180.1 1117.3 1181.8 1117.3C1183.5 1117.4 1184.9 1119.4 1186.5 1120.8C1188.0 1122.3 1189.8 1125.9 1191.1 1126.1C1192.5 1126.1 1193.3 1123.4 1194.6 1122.0C1196.0 1120.5 1197.7 1117.5 1199.3 1117.3C1200.8 1117.3 1202.4 1119.3 1204.0 1120.8C1205.5 1122.4 1207.3 1125.4 1208.6 1126.6C1210.0 1127.9 1210.6 1128.4 1212.1 1128.4C1213.7 1127.8 1216.0 1124.0 1217.9 1123.1C1219.9 1123.1 1222.2 1123.1 1223.8 1123.1C1225.3 1123.6 1225.9 1126.1 1227.3 1126.1C1228.6 1126.1 1229.8 1123.6 1231.9 1123.1C1234.1 1123.1 1238.2 1123.1 1240.1 1123.1C1242.0 1123.5 1240.9 1125.1 1243.6 1125.5C1246.3 1125.5 1253.5 1125.5 1256.4 1125.5C1259.3 1125.1 1257.4 1123.5 1261.1 1123.1C1264.8 1123.1 1274.9 1123.1 1278.6 1123.1C1282.3 1123.9 1281.7 1127.0 1283.2 1127.8C1284.8 1127.8 1286.0 1127.8 1287.9 1127.8C1289.9 1127.0 1293.0 1123.3 1294.9 1123.1C1296.9 1123.1 1297.6 1125.9 1299.6 1126.6C1301.5 1127.4 1304.4 1127.8 1306.6 1127.8C1308.7 1127.1 1310.8 1123.5 1312.4 1122.6C1314.0 1122.0 1314.3 1122.0 1315.9 1122.0C1317.5 1122.9 1319.8 1126.8 1321.7 1127.8C1323.7 1127.8 1325.8 1127.8 1327.6 1127.8C1329.3 1127.9 1330.3 1128.3 1332.2 1128.4C1334.2 1128.4 1336.9 1128.4 1339.2 1128.4C1341.5 1127.9 1343.9 1126.0 1346.2 1125.5C1348.5 1125.5 1350.9 1125.5 1353.2 1125.5C1355.5 1126.3 1358.1 1130.1 1360.2 1130.1C1362.3 1130.1 1364.4 1126.3 1366.0 1125.5C1367.7 1125.5 1368.7 1125.5 1370.0 1125.5C1371.3 1126.4 1372.7 1130.6 1374.0 1130.7C1375.2 1130.7 1376.1 1127.5 1377.5 1126.1C1378.9 1124.6 1380.2 1122.0 1382.2 1122.0C1384.1 1122.3 1386.4 1126.8 1389.2 1127.8C1391.9 1127.8 1396.0 1127.8 1398.5 1127.8C1401.0 1127.3 1402.2 1124.9 1404.3 1124.9C1406.4 1125.4 1409.2 1129.8 1411.3 1130.7C1413.4 1130.7 1415.2 1130.7 1417.1 1130.7C1419.1 1129.8 1420.8 1125.9 1423.0 1124.9C1425.1 1124.9 1427.6 1124.9 1430.0 1124.9C1432.3 1125.4 1435.0 1127.2 1437.0 1127.8C1438.9 1128.4 1438.3 1128.3 1441.6 1128.4C1444.9 1128.4 1453.7 1128.4 1456.8 1128.4C1459.9 1128.9 1458.9 1131.3 1460.3 1131.3C1461.6 1131.0 1463.4 1128.6 1464.9 1126.6C1466.5 1124.7 1468.2 1120.6 1469.6 1119.6C1471.0 1119.6 1471.7 1119.6 1473.1 1120.8C1474.5 1122.3 1476.4 1127.2 1477.8 1128.4C1479.1 1128.4 1479.9 1128.4 1481.3 1127.8C1482.6 1126.9 1484.2 1123.1 1485.9 1123.1C1487.7 1123.6 1490.0 1129.8 1491.8 1130.7C1493.5 1130.7 1494.3 1128.8 1496.4 1128.4C1498.6 1128.4 1502.5 1128.4 1504.6 1128.4C1506.7 1128.9 1507.3 1131.3 1509.3 1131.3C1511.2 1130.7 1514.3 1126.0 1516.2 1124.9C1518.2 1124.9 1519.6 1124.9 1520.9 1124.9C1522.3 1125.8 1523.2 1128.7 1524.4 1130.1C1525.6 1131.6 1526.7 1133.4 1527.9 1133.6C1529.1 1133.6 1530.2 1132.7 1531.4 1131.3C1532.6 1129.9 1532.2 1126.4 1534.9 1125.5C1537.6 1125.5 1545.0 1125.5 1547.7 1125.5C1550.5 1126.0 1550.1 1128.0 1551.2 1128.4C1552.4 1128.4 1553.2 1128.4 1554.7 1127.8C1556.3 1126.8 1558.4 1122.6 1560.6 1122.6C1562.7 1122.7 1565.0 1128.3 1567.6 1128.4C1570.1 1128.4 1573.2 1124.0 1575.7 1123.1C1578.2 1123.1 1581.0 1123.1 1582.7 1123.1C1584.5 1122.7 1584.3 1120.7 1586.2 1120.2C1588.2 1120.2 1592.2 1120.2 1594.4 1120.2C1596.5 1119.7 1597.3 1118.3 1599.0 1117.3C1600.8 1116.3 1603.0 1115.4 1604.9 1114.4C1606.7 1113.4 1608.5 1112.0 1610.0 1111.5C1611.5 1111.5 1612.7 1111.5 1614.0 1111.5C1615.2 1112.0 1616.1 1113.9 1617.5 1114.4C1618.9 1114.4 1620.8 1114.4 1622.2 1114.4C1623.5 1113.9 1624.5 1112.0 1625.7 1111.5C1626.8 1111.5 1628.0 1111.5 1629.2 1111.5C1630.3 1112.5 1631.3 1116.0 1632.6 1117.3C1634.0 1118.7 1636.0 1119.6 1637.3 1119.6C1638.7 1119.6 1639.5 1118.7 1640.8 1117.3C1642.2 1116.0 1643.9 1111.5 1645.5 1111.5C1647.0 1111.5 1648.6 1115.9 1650.1 1117.3C1651.7 1118.8 1653.1 1120.2 1654.8 1120.2C1656.6 1120.2 1658.1 1117.8 1660.6 1117.3C1663.2 1117.3 1667.6 1117.3 1670.0 1117.3C1672.3 1117.8 1673.1 1118.4 1674.6 1120.2C1676.2 1122.1 1677.7 1127.5 1679.3 1128.4C1680.8 1128.4 1682.4 1126.4 1684.0 1125.5C1685.5 1124.5 1687.1 1122.9 1688.6 1122.6C1690.2 1122.6 1691.9 1122.7 1693.3 1123.1C1694.6 1123.6 1695.0 1125.5 1696.8 1125.5C1698.5 1124.9 1701.6 1120.0 1703.8 1119.6C1705.9 1119.6 1705.5 1122.6 1709.6 1123.1C1713.7 1123.1 1724.2 1123.1 1728.3 1123.1C1732.3 1124.5 1731.6 1131.3 1734.1 1131.3C1736.6 1131.2 1740.9 1123.1 1743.4 1122.6C1745.9 1122.6 1747.3 1126.9 1749.3 1127.8C1751.2 1127.8 1753.3 1127.8 1755.1 1127.8C1756.8 1126.5 1758.2 1122.0 1759.7 1120.2C1761.3 1118.5 1762.9 1117.8 1764.4 1117.3C1766.0 1117.3 1767.5 1117.3 1769.1 1117.3C1770.6 1117.8 1772.2 1119.4 1773.7 1120.2C1775.3 1121.1 1776.9 1122.6 1778.4 1122.6C1780.0 1122.6 1780.9 1120.6 1783.1 1120.2C1785.2 1120.2 1789.3 1120.2 1791.2 1120.2C1793.2 1119.7 1793.2 1117.3 1794.7 1117.3C1796.3 1117.3 1798.4 1120.2 1800.6 1120.2C1802.7 1119.5 1805.6 1114.1 1807.6 1112.6C1809.5 1111.5 1810.7 1112.1 1812.2 1111.5C1813.8 1110.9 1815.3 1110.1 1816.9 1109.2C1818.4 1108.2 1820.0 1105.8 1821.5 1105.7C1823.1 1105.7 1824.9 1107.6 1826.2 1108.0C1827.6 1108.0 1828.9 1108.0 1829.7 1108.0C1830.5 1106.6 1830.3 1102.2 1830.9 1099.8C1831.5 1097.5 1832.2 1095.6 1833.2 1094.0C1834.2 1092.3 1834.8 1090.6 1836.7 1089.9C1838.7 1089.9 1842.7 1089.9 1844.9 1089.9C1847.1 1089.0 1849.0 1085.8 1850.0 1084.7C1850.8 1083.6 1850.0 1084.7 1850.8 1083.2C1852.9 1080.9 1859.4 1075.0 1862.1 1070.4C1864.7 1065.9 1865.3 1060.8 1866.9 1056.0C1868.5 1051.2 1869.8 1045.3 1871.7 1041.6C1873.6 1037.8 1876.0 1037.3 1878.1 1033.5C1880.2 1029.8 1883.2 1022.9 1884.5 1019.1C1885.8 1015.4 1885.0 1015.4 1886.1 1011.1C1887.2 1006.8 1889.3 998.3 1890.9 993.5C1892.5 988.6 1894.1 985.7 1895.7 982.2C1897.3 978.8 1898.7 976.9 1900.5 972.6C1902.4 968.3 1904.8 962.2 1907.0 956.6C1909.1 951.0 1911.5 942.7 1913.4 938.9C1915.2 935.2 1916.3 936.0 1918.2 934.1C1920.1 932.3 1922.7 931.2 1924.6 927.7C1926.5 924.2 1927.5 916.8 1929.4 913.3C1931.3 909.8 1933.7 909.8 1935.8 906.9C1938.0 903.9 1940.4 898.6 1942.2 895.7C1944.1 892.7 1945.2 889.8 1947.0 889.2C1948.9 889.2 1951.6 890.6 1953.5 892.4C1955.3 894.3 1956.7 895.4 1958.3 900.5C1959.9 905.5 1961.5 915.2 1963.1 922.9C1964.7 930.7 1966.3 940.0 1967.9 947.0C1969.5 953.9 1971.4 959.3 1972.7 964.6C1974.0 969.9 1974.8 973.9 1975.9 979.0C1977.0 984.1 1978.0 989.2 1979.1 995.1C1980.2 1000.9 1981.0 1008.4 1982.3 1014.3C1983.7 1020.2 1985.5 1025.0 1987.1 1030.3C1988.7 1035.7 1990.3 1040.2 1991.9 1046.4C1993.5 1052.5 1995.1 1060.8 1996.7 1067.2C1998.3 1073.6 2000.2 1080.0 2001.6 1084.8C2002.9 1089.7 2003.4 1093.1 2004.8 1096.1C2006.1 1099.0 2007.7 1100.3 2009.6 1102.5C2011.4 1104.6 2013.8 1107.8 2016.0 1108.9C2018.1 1108.9 2020.3 1108.9 2022.4 1108.9C2024.5 1110.2 2025.3 1115.6 2028.8 1116.9C2032.3 1116.9 2040.7 1116.9 2043.2 1116.9C2044.0 1117.4 2043.9 1119.6 2044.0 1120.1" fill="none" stroke="#d4303a" stroke-width="2.1" stroke-linejoin="round"/><path d="M179.3 1339.6C179.3 1341.8 179.3 1348.8 179.3 1352.5C179.7 1356.2 180.3 1358.3 181.7 1361.8C183.0 1365.3 185.5 1372.9 187.5 1373.5C189.4 1373.5 191.6 1367.8 193.3 1365.3C195.1 1362.8 196.0 1360.1 198.0 1358.3C199.9 1356.6 202.8 1356.4 205.0 1354.8C207.1 1353.2 208.9 1350.9 210.8 1349.0C212.8 1347.0 214.1 1344.9 216.6 1343.1C219.2 1341.4 223.1 1340.0 226.0 1338.5C228.9 1336.9 231.8 1335.4 234.1 1333.8C236.5 1332.3 237.8 1331.3 240.0 1329.2C242.1 1327.0 244.8 1322.3 247.0 1321.0C249.1 1321.0 251.2 1321.0 252.8 1321.0C254.3 1321.8 255.1 1323.3 256.3 1325.7C257.5 1328.0 258.8 1331.9 259.8 1335.0C260.8 1338.1 261.3 1341.4 262.1 1344.3C262.9 1347.2 263.5 1349.9 264.4 1352.5C265.4 1355.0 266.8 1358.3 267.9 1359.5C269.1 1359.5 269.5 1359.5 271.4 1359.5C273.4 1358.5 277.3 1354.0 279.6 1353.6C281.9 1353.6 283.1 1355.6 285.4 1357.1C287.8 1358.7 291.1 1363.0 293.6 1363.0C296.1 1362.8 298.5 1357.5 300.6 1356.0C302.7 1354.4 304.5 1353.6 306.4 1353.6C308.4 1354.0 310.3 1356.7 312.3 1358.3C314.2 1359.9 315.8 1363.0 318.1 1363.0C320.4 1362.2 322.9 1355.2 326.2 1353.6C329.6 1353.6 335.2 1353.6 337.9 1353.6C340.6 1353.2 341.0 1351.7 342.6 1351.3C344.1 1351.3 345.5 1351.3 347.2 1351.3C349.0 1352.5 351.5 1356.9 353.1 1358.3C354.6 1359.5 355.0 1359.5 356.6 1359.5C358.1 1358.3 360.5 1354.2 362.4 1351.3C364.3 1348.4 366.5 1343.8 368.2 1342.0C370.0 1340.2 370.9 1341.0 372.9 1340.2C374.8 1339.5 377.8 1337.3 379.9 1337.3C382.0 1337.4 384.0 1339.7 385.7 1340.8C387.5 1341.9 388.4 1343.7 390.4 1343.7C392.3 1343.6 395.0 1340.8 397.4 1340.2C399.7 1340.2 402.2 1340.2 404.4 1340.2C406.5 1340.7 407.6 1342.6 410.2 1343.1C412.8 1343.7 418.1 1343.7 420.0 1343.7C421.7 1343.7 420.8 1343.7 421.7 1343.4C422.5 1342.2 423.8 1338.8 425.2 1337.0C426.5 1335.1 428.3 1332.3 429.8 1332.3C431.4 1332.3 433.1 1334.6 434.5 1337.0C435.8 1339.3 437.0 1343.6 438.0 1346.3C439.0 1349.0 439.3 1351.1 440.3 1353.3C441.3 1355.4 442.5 1358.1 443.8 1359.1C445.2 1359.1 446.9 1359.1 448.5 1359.1C450.0 1358.7 451.8 1356.8 453.1 1356.8C454.5 1356.8 455.1 1357.8 456.6 1359.1C458.2 1360.5 460.3 1363.4 462.5 1364.9C464.6 1366.5 467.1 1367.5 469.5 1368.4C471.8 1369.4 474.3 1370.8 476.5 1370.8C478.6 1370.8 480.2 1369.8 482.3 1368.4C484.4 1367.1 487.0 1364.0 489.3 1362.6C491.6 1361.3 494.5 1361.8 496.3 1360.3C498.0 1358.7 498.6 1356.0 499.8 1353.3C501.0 1350.6 502.3 1346.5 503.3 1344.0C504.3 1341.4 504.6 1340.1 505.6 1338.1C506.6 1336.2 507.9 1333.7 509.1 1332.3C510.3 1330.9 511.3 1330.9 512.6 1330.0C514.0 1329.0 515.9 1327.8 517.3 1326.5C518.6 1325.1 519.6 1323.9 520.8 1321.8C521.9 1319.7 523.1 1316.4 524.3 1313.6C525.4 1310.9 526.6 1308.0 527.8 1305.5C528.9 1302.9 530.1 1301.0 531.3 1298.5C532.4 1296.0 533.2 1292.8 534.8 1290.3C536.3 1287.8 537.9 1284.5 540.6 1283.3C543.3 1283.3 548.4 1283.3 551.1 1283.3C553.8 1282.3 554.8 1279.4 556.9 1277.5C559.1 1275.5 562.0 1272.2 563.9 1271.7C565.9 1271.7 567.2 1272.6 568.6 1274.0C569.9 1275.4 570.9 1277.9 572.1 1279.8C573.2 1281.8 574.2 1283.9 575.6 1285.7C576.9 1287.4 578.3 1289.2 580.2 1290.3C582.2 1291.5 585.5 1291.7 587.2 1292.6C589.0 1293.6 589.6 1294.4 590.7 1296.1C591.9 1297.9 593.3 1300.8 594.2 1303.1C595.2 1305.5 595.8 1307.6 596.6 1310.1C597.3 1312.7 598.1 1315.2 598.9 1318.3C599.7 1321.4 600.3 1325.7 601.2 1328.8C602.2 1331.9 603.6 1335.0 604.7 1337.0C605.9 1338.9 607.1 1340.5 608.2 1340.5C609.4 1340.5 610.4 1337.9 611.7 1337.0C613.1 1336.0 615.0 1334.6 616.4 1334.6C617.8 1334.8 618.7 1336.4 619.9 1338.1C621.1 1339.9 622.2 1342.4 623.4 1345.1C624.6 1347.8 625.7 1352.1 626.9 1354.4C628.1 1356.8 628.6 1359.1 630.4 1359.1C632.1 1358.9 635.2 1354.3 637.4 1353.3C639.5 1353.3 640.9 1353.3 643.2 1353.3C645.5 1353.3 649.2 1353.3 651.4 1353.3C653.5 1352.9 654.6 1351.9 656.0 1351.0C657.5 1350.0 659.1 1347.9 660.0 1347.5C660.9 1347.5 660.4 1348.2 661.7 1348.2C662.9 1348.0 664.8 1346.3 667.5 1345.9C670.2 1345.9 675.5 1345.9 678.0 1345.9C680.5 1345.0 681.5 1343.1 682.6 1340.6C683.8 1338.2 684.0 1334.6 685.0 1331.3C686.0 1328.0 687.3 1322.9 688.5 1320.8C689.6 1318.7 690.6 1318.5 692.0 1318.5C693.3 1318.7 695.1 1320.6 696.6 1322.0C698.2 1323.3 699.8 1326.4 701.3 1326.6C702.9 1326.6 704.8 1324.7 706.0 1323.1C707.1 1321.6 707.3 1318.6 708.3 1317.3C709.3 1316.1 710.6 1315.6 711.8 1315.6C713.0 1315.8 713.9 1316.6 715.3 1318.5C716.7 1320.3 718.2 1325.3 720.0 1326.6C721.7 1326.6 724.0 1326.6 725.8 1326.6C727.5 1327.4 728.9 1329.6 730.5 1331.3C732.0 1333.1 733.6 1336.2 735.1 1337.1C736.7 1337.1 738.0 1337.1 739.8 1337.1C741.5 1335.9 743.9 1330.8 745.6 1329.6C747.4 1329.6 748.7 1329.6 750.3 1329.6C751.8 1330.2 753.4 1331.8 754.9 1333.6C756.5 1335.5 758.1 1338.1 759.6 1340.6C761.2 1343.2 762.3 1346.5 764.3 1348.8C766.2 1351.1 769.3 1352.7 771.3 1354.6C773.2 1356.6 774.4 1358.7 775.9 1360.5C777.5 1362.2 778.7 1364.8 780.6 1365.1C782.5 1365.1 785.6 1362.6 787.6 1362.2C789.5 1362.2 790.3 1362.3 792.3 1362.8C794.2 1363.3 796.9 1365.1 799.3 1365.1C801.6 1365.0 804.3 1362.2 806.2 1362.2C808.2 1362.2 809.2 1363.8 810.9 1365.1C812.7 1366.5 814.6 1369.9 816.7 1370.4C818.9 1370.4 821.4 1368.5 823.7 1368.0C826.1 1367.6 828.8 1368.0 830.7 1367.5C832.7 1366.4 833.8 1363.4 835.4 1361.6C837.0 1359.9 837.9 1357.3 840.1 1357.0C842.2 1357.0 845.9 1359.3 848.2 1359.3C850.6 1358.5 852.3 1354.4 854.1 1352.3C855.8 1350.2 857.0 1347.5 858.7 1346.5C860.5 1345.9 862.6 1345.9 864.6 1345.9C866.5 1346.3 868.6 1348.8 870.4 1348.8C872.1 1348.3 873.7 1344.6 875.0 1343.0C876.4 1341.3 877.2 1338.9 878.5 1338.9C879.9 1338.9 881.3 1342.3 883.2 1343.0C885.2 1343.0 888.5 1343.0 890.2 1343.0C892.0 1341.8 892.7 1338.1 893.7 1336.0C894.7 1333.8 895.0 1331.7 896.0 1330.1C897.1 1328.6 898.9 1326.8 900.0 1326.6C901.1 1326.6 901.8 1327.8 902.8 1329.5C903.9 1331.1 905.0 1334.6 906.3 1336.5C907.7 1338.3 909.2 1340.5 911.0 1340.5C912.7 1340.4 914.1 1336.2 916.8 1335.3C919.5 1335.3 924.2 1335.3 927.3 1335.3C930.4 1333.8 933.1 1328.0 935.5 1326.6C937.8 1326.6 939.4 1326.6 941.3 1326.6C943.2 1327.6 944.8 1330.7 947.1 1333.0C949.5 1335.2 953.2 1339.2 955.3 1340.0C957.4 1340.0 958.6 1339.4 960.0 1337.6C961.3 1335.9 961.7 1332.2 963.5 1329.5C965.2 1326.7 968.7 1322.1 970.5 1321.3C972.2 1321.3 972.6 1323.8 974.0 1324.8C975.3 1325.8 976.5 1327.1 978.6 1327.1C980.8 1326.1 984.6 1319.6 986.8 1318.4C988.9 1318.4 989.9 1319.1 991.4 1320.1C993.0 1321.2 994.6 1324.8 996.1 1324.8C997.7 1324.6 999.0 1320.9 1000.8 1319.0C1002.5 1317.0 1004.7 1313.6 1006.6 1313.1C1008.5 1313.1 1009.7 1315.6 1012.4 1316.1C1015.2 1316.1 1020.0 1316.1 1022.9 1316.1C1025.8 1317.0 1028.0 1321.6 1029.9 1321.9C1031.9 1321.9 1033.2 1319.8 1034.6 1317.8C1035.9 1315.8 1036.9 1311.8 1038.1 1309.6C1039.3 1307.5 1040.2 1305.0 1041.6 1305.0C1042.9 1305.0 1044.9 1307.3 1046.2 1309.6C1047.6 1312.0 1048.6 1315.9 1049.7 1319.0C1050.9 1322.1 1052.1 1325.6 1053.2 1328.3C1054.4 1331.0 1055.4 1335.1 1056.7 1335.3C1058.1 1335.3 1059.7 1331.4 1061.4 1329.5C1063.2 1327.5 1065.3 1324.0 1067.2 1323.6C1069.2 1323.6 1071.3 1325.4 1073.1 1327.1C1074.8 1328.9 1076.2 1332.0 1077.7 1334.1C1079.3 1336.3 1081.0 1338.4 1082.4 1340.0C1083.8 1341.5 1084.7 1343.5 1085.9 1343.5C1087.1 1343.1 1088.4 1340.4 1089.4 1337.6C1090.4 1334.9 1090.8 1330.6 1091.7 1327.1C1092.7 1323.6 1093.7 1317.8 1095.2 1316.6C1096.8 1316.6 1099.1 1318.4 1101.1 1320.1C1103.0 1321.9 1105.1 1327.1 1106.9 1327.1C1108.6 1326.9 1109.8 1321.7 1111.5 1319.0C1113.3 1316.3 1115.6 1312.2 1117.4 1310.8C1119.1 1310.8 1120.3 1310.8 1122.0 1310.8C1123.8 1311.2 1125.9 1313.1 1127.9 1313.1C1129.8 1312.6 1131.7 1309.5 1133.7 1307.3C1135.7 1305.2 1138.6 1301.5 1140.0 1300.3C1141.4 1300.2 1141.5 1300.3 1142.4 1300.2C1143.2 1299.0 1144.6 1295.9 1145.2 1293.5C1145.8 1291.1 1145.5 1288.3 1146.2 1285.9C1146.8 1283.5 1148.2 1281.8 1149.0 1279.3C1149.8 1276.7 1150.1 1273.2 1150.9 1270.7C1151.7 1268.2 1152.8 1265.6 1153.8 1264.1C1154.7 1262.5 1155.3 1261.3 1156.6 1261.2C1157.9 1261.2 1159.9 1263.6 1161.4 1263.6C1162.8 1263.6 1163.9 1263.0 1165.2 1261.2C1166.4 1259.4 1167.8 1254.7 1169.0 1252.7C1170.1 1250.6 1170.5 1249.8 1171.8 1248.9C1173.1 1247.9 1175.1 1247.9 1176.6 1247.0C1178.0 1246.0 1179.2 1244.9 1180.4 1243.2C1181.5 1241.4 1182.4 1239.2 1183.2 1236.5C1184.0 1233.8 1184.2 1229.2 1185.1 1227.0C1186.1 1224.8 1187.3 1224.3 1188.9 1223.2C1190.5 1222.1 1192.7 1221.6 1194.6 1220.4C1196.5 1219.1 1198.6 1217.7 1200.3 1215.6C1202.1 1213.5 1203.8 1210.4 1205.1 1208.0C1206.3 1205.6 1207.0 1203.4 1207.9 1201.4C1208.9 1199.3 1209.8 1197.6 1210.8 1195.7C1211.7 1193.8 1212.5 1191.7 1213.6 1190.0C1214.7 1188.2 1216.0 1185.9 1217.4 1185.2C1218.8 1185.2 1220.7 1185.2 1222.2 1185.7C1223.6 1186.2 1224.5 1187.2 1226.0 1188.1C1227.4 1188.9 1228.8 1190.0 1230.7 1190.9C1232.6 1191.9 1235.5 1192.6 1237.4 1193.8C1239.3 1194.9 1240.8 1196.1 1242.1 1197.6C1243.4 1199.0 1244.0 1200.7 1245.0 1202.3C1245.9 1203.9 1246.4 1205.5 1247.8 1207.1C1249.2 1208.6 1251.8 1210.2 1253.5 1211.8C1255.3 1213.4 1256.7 1215.0 1258.3 1216.6C1259.8 1218.1 1261.7 1219.9 1263.0 1221.3C1264.3 1222.7 1264.8 1223.5 1265.9 1225.1C1267.0 1226.7 1268.2 1229.2 1269.7 1230.8C1271.1 1232.4 1272.8 1233.5 1274.4 1234.6C1276.0 1235.7 1277.9 1236.2 1279.2 1237.5C1280.4 1238.7 1280.9 1239.8 1282.0 1242.2C1283.1 1244.6 1284.6 1249.3 1285.8 1251.7C1287.1 1254.1 1288.0 1254.7 1289.6 1256.5C1291.2 1258.2 1293.4 1260.4 1295.3 1262.2C1297.2 1263.9 1299.4 1266.4 1301.0 1266.9C1302.6 1266.9 1303.7 1266.3 1304.8 1265.0C1305.9 1263.7 1306.6 1260.9 1307.7 1259.3C1308.8 1257.7 1310.2 1255.5 1311.5 1255.5C1312.7 1255.5 1314.2 1257.7 1315.3 1259.3C1316.4 1260.9 1317.0 1263.3 1318.1 1265.0C1319.2 1266.8 1320.7 1269.6 1321.9 1269.8C1323.2 1269.8 1324.4 1266.9 1325.7 1266.0C1327.1 1265.0 1328.6 1264.1 1330.0 1264.1C1331.4 1264.4 1332.2 1265.2 1334.0 1268.0C1335.8 1270.8 1338.3 1280.1 1341.0 1280.8C1343.7 1280.8 1348.0 1273.0 1350.3 1272.1C1352.6 1272.1 1353.4 1272.9 1355.0 1275.0C1356.5 1277.0 1358.1 1281.2 1359.6 1284.3C1361.2 1287.4 1362.0 1292.1 1364.3 1293.6C1366.6 1293.6 1371.3 1293.6 1373.6 1293.6C1376.0 1294.6 1376.9 1296.7 1378.3 1299.5C1379.7 1302.2 1380.6 1307.0 1381.8 1310.0C1383.0 1312.9 1383.9 1315.2 1385.3 1317.0C1386.7 1318.7 1387.8 1320.5 1390.0 1320.5C1392.1 1319.3 1395.8 1310.7 1398.1 1310.0C1400.5 1310.0 1402.4 1313.3 1404.0 1315.8C1405.5 1318.3 1406.3 1321.6 1407.5 1325.1C1408.6 1328.6 1409.6 1334.6 1411.0 1336.8C1412.3 1337.9 1413.7 1337.9 1415.6 1337.9C1417.6 1336.8 1420.7 1331.1 1422.6 1329.8C1424.6 1329.8 1425.3 1329.8 1427.3 1329.8C1429.2 1331.1 1431.9 1335.7 1434.3 1337.9C1436.6 1340.2 1438.0 1342.3 1441.3 1343.2C1444.6 1343.2 1451.2 1343.2 1454.1 1343.2C1457.0 1343.6 1457.0 1345.5 1458.8 1345.5C1460.5 1345.0 1462.6 1341.2 1464.6 1340.3C1466.5 1340.3 1468.5 1340.3 1470.4 1340.3C1472.4 1341.7 1474.7 1347.7 1476.2 1349.0C1477.8 1349.0 1478.2 1349.0 1479.7 1348.4C1481.3 1346.4 1483.6 1338.1 1485.6 1336.8C1487.5 1336.8 1489.7 1339.2 1491.4 1340.3C1493.2 1341.3 1494.7 1343.2 1496.1 1343.2C1497.4 1343.0 1498.4 1341.5 1499.6 1339.1C1500.7 1336.7 1501.9 1331.3 1503.1 1328.6C1504.2 1325.9 1505.2 1324.4 1506.6 1322.8C1507.9 1321.1 1508.7 1319.4 1511.2 1318.7C1513.8 1318.7 1518.8 1318.7 1521.7 1318.7C1524.6 1320.1 1526.6 1326.0 1528.7 1326.9C1530.9 1326.9 1532.4 1324.4 1534.6 1324.0C1536.7 1324.0 1539.6 1324.0 1541.5 1324.0C1543.5 1324.8 1544.7 1328.4 1546.2 1329.2C1547.8 1329.2 1549.1 1329.2 1550.9 1328.6C1552.6 1327.7 1554.4 1325.6 1556.7 1324.0C1559.0 1322.3 1562.7 1318.7 1564.9 1318.7C1567.1 1318.7 1568.3 1322.0 1570.0 1324.0C1571.7 1325.9 1573.7 1329.9 1575.2 1330.1C1576.6 1330.1 1577.3 1327.0 1578.7 1325.5C1580.0 1323.9 1582.0 1321.4 1583.3 1320.8C1584.7 1320.8 1585.7 1320.8 1586.8 1322.0C1588.0 1323.5 1589.2 1327.2 1590.3 1330.1C1591.5 1333.1 1592.6 1337.9 1593.8 1339.5C1595.0 1339.5 1595.6 1339.5 1597.3 1339.5C1599.1 1337.3 1602.4 1328.0 1604.3 1326.6C1606.3 1326.6 1607.4 1329.6 1609.0 1331.3C1610.5 1333.1 1611.7 1336.7 1613.6 1337.1C1615.6 1337.1 1618.5 1334.5 1620.6 1333.6C1622.8 1332.8 1624.7 1332.2 1626.5 1331.9C1628.2 1331.9 1629.0 1331.9 1631.1 1331.9C1633.3 1332.8 1637.2 1335.7 1639.3 1337.1C1641.4 1338.6 1642.2 1339.2 1644.0 1340.6C1645.7 1342.1 1648.0 1345.9 1649.8 1345.9C1651.5 1345.7 1652.9 1341.3 1654.4 1339.5C1656.0 1337.6 1657.4 1335.0 1659.1 1334.8C1660.9 1334.8 1663.4 1336.9 1664.9 1338.3C1666.5 1339.7 1667.1 1342.2 1668.4 1343.0C1669.8 1343.0 1671.0 1343.0 1673.1 1343.0C1675.2 1342.0 1678.9 1338.9 1681.3 1337.1C1683.6 1335.4 1685.2 1334.2 1687.1 1332.5C1689.0 1330.7 1691.2 1327.2 1692.9 1326.6C1694.7 1326.6 1695.8 1327.6 1697.6 1329.0C1699.3 1330.3 1701.7 1334.2 1703.4 1334.8C1705.2 1334.8 1705.6 1332.9 1708.1 1332.5C1710.6 1332.5 1716.1 1332.5 1718.6 1332.5C1721.1 1331.1 1722.1 1327.2 1723.2 1324.3C1724.4 1321.4 1724.4 1317.4 1725.6 1315.0C1726.7 1312.6 1728.7 1309.9 1730.2 1309.7C1731.8 1309.7 1733.5 1312.0 1734.9 1313.8C1736.3 1315.7 1737.0 1319.6 1738.4 1320.8C1739.8 1320.8 1741.5 1320.8 1743.1 1320.8C1744.6 1319.5 1746.2 1314.2 1747.7 1312.6C1749.3 1311.5 1751.0 1311.5 1752.4 1311.5C1753.8 1312.1 1754.5 1315.0 1755.9 1316.1C1757.3 1317.3 1759.0 1318.5 1760.6 1318.5C1762.1 1318.1 1763.5 1315.2 1765.2 1313.8C1767.0 1312.5 1769.1 1310.7 1771.1 1310.3C1773.0 1310.3 1774.9 1310.9 1776.9 1311.5C1778.8 1312.1 1781.0 1312.8 1782.7 1313.8C1784.5 1314.8 1786.0 1315.7 1787.4 1317.3C1788.7 1319.0 1788.7 1322.7 1790.9 1323.7C1793.0 1323.7 1797.9 1323.7 1800.2 1323.7C1802.5 1324.4 1803.2 1325.8 1804.9 1327.8C1806.5 1329.8 1808.4 1335.8 1810.0 1336.0C1811.6 1336.0 1813.0 1330.8 1814.6 1328.8C1816.1 1326.8 1817.8 1324.0 1819.4 1324.0C1821.0 1324.4 1822.6 1328.7 1824.3 1331.2C1825.9 1333.8 1827.5 1338.7 1829.1 1339.1C1830.7 1339.1 1832.1 1336.6 1834.0 1333.7C1835.8 1330.7 1838.2 1322.7 1840.0 1321.5C1841.8 1321.5 1843.5 1323.6 1844.9 1326.4C1846.3 1329.2 1847.1 1335.3 1848.5 1338.5C1849.9 1341.7 1851.7 1345.2 1853.4 1345.8C1855.0 1345.8 1856.8 1344.0 1858.2 1342.1C1859.6 1340.3 1860.4 1337.4 1861.8 1334.9C1863.3 1332.3 1864.9 1327.8 1866.7 1327.0C1868.5 1327.0 1870.7 1328.3 1872.8 1330.0C1874.8 1331.7 1877.0 1335.1 1878.8 1337.3C1880.6 1339.5 1882.1 1343.2 1883.7 1343.4C1885.3 1343.4 1886.7 1340.7 1888.5 1338.5C1890.3 1336.3 1892.6 1331.4 1894.6 1330.0C1896.6 1330.0 1898.6 1330.0 1900.7 1330.0C1902.7 1328.8 1904.9 1324.7 1906.7 1322.7C1908.5 1320.8 1910.0 1318.5 1911.6 1318.5C1913.2 1318.7 1914.8 1321.8 1916.4 1324.0C1918.0 1326.1 1919.2 1328.5 1921.3 1331.2C1923.3 1334.0 1925.7 1338.8 1928.5 1340.3C1931.4 1340.3 1935.8 1340.3 1938.2 1340.3C1940.7 1340.8 1941.5 1343.4 1943.1 1343.4C1944.7 1343.4 1946.5 1340.8 1947.9 1340.3C1949.4 1340.3 1949.8 1340.3 1951.6 1340.3C1953.4 1341.6 1955.4 1346.9 1958.9 1348.2C1962.3 1348.2 1968.6 1348.2 1972.2 1348.2C1975.8 1348.9 1978.1 1352.5 1980.7 1352.5C1983.3 1352.0 1985.3 1347.3 1988.0 1345.8C1990.6 1344.3 1994.4 1344.0 1996.5 1343.4C1998.5 1342.8 1998.5 1343.2 2000.1 1342.1C2001.7 1341.1 2003.9 1338.9 2006.2 1337.3C2008.4 1335.7 2011.2 1333.3 2013.4 1332.4C2015.7 1332.4 2017.7 1332.4 2019.5 1332.4C2021.3 1333.5 2022.9 1336.7 2024.3 1338.5C2025.8 1340.3 2026.4 1343.2 2028.0 1343.4C2029.6 1343.4 2032.2 1340.1 2034.0 1339.7C2035.9 1339.7 2037.7 1339.7 2038.9 1340.9C2040.1 1342.1 2040.7 1344.8 2041.3 1347.0C2041.9 1349.2 2042.1 1351.6 2042.5 1354.3C2042.9 1356.9 2043.5 1361.3 2043.8 1362.8" fill="none" stroke="#111111" stroke-width="2.0" stroke-linejoin="round"/><rect x="175.25" y="22" width="1877.75" height="1395.70" fill="none" stroke="#000" stroke-width="4.8"/><line x1="175.25" y1="1417" x2="175.25" y2="1431.5" stroke="#000" stroke-width="5"/><line x1="300.43" y1="1417" x2="300.43" y2="1445.0" stroke="#000" stroke-width="5"/><text transform="translate(299.93 1510.3) scale(1 1.0377)" font-size="64" text-anchor="middle">1400</text><line x1="425.62" y1="1417" x2="425.62" y2="1431.5" stroke="#000" stroke-width="5"/><line x1="550.80" y1="1417" x2="550.80" y2="1445.0" stroke="#000" stroke-width="5"/><text transform="translate(550.30 1510.3) scale(1 1.0377)" font-size="64" text-anchor="middle">1600</text><line x1="675.98" y1="1417" x2="675.98" y2="1431.5" stroke="#000" stroke-width="5"/><line x1="801.17" y1="1417" x2="801.17" y2="1445.0" stroke="#000" stroke-width="5"/><text transform="translate(800.67 1510.3) scale(1 1.0377)" font-size="64" text-anchor="middle">1800</text><line x1="926.35" y1="1417" x2="926.35" y2="1431.5" stroke="#000" stroke-width="5"/><line x1="1051.53" y1="1417" x2="1051.53" y2="1445.0" stroke="#000" stroke-width="5"/><text transform="translate(1051.03 1510.3) scale(1 1.0377)" font-size="64" text-anchor="middle">2000</text><line x1="1176.72" y1="1417" x2="1176.72" y2="1431.5" stroke="#000" stroke-width="5"/><line x1="1301.90" y1="1417" x2="1301.90" y2="1445.0" stroke="#000" stroke-width="5"/><text transform="translate(1301.40 1510.3) scale(1 1.0377)" font-size="64" text-anchor="middle">2200</text><line x1="1427.08" y1="1417" x2="1427.08" y2="1431.5" stroke="#000" stroke-width="5"/><line x1="1552.27" y1="1417" x2="1552.27" y2="1445.0" stroke="#000" stroke-width="5"/><text transform="translate(1551.77 1510.3) scale(1 1.0377)" font-size="64" text-anchor="middle">2400</text><line x1="1677.45" y1="1417" x2="1677.45" y2="1431.5" stroke="#000" stroke-width="5"/><line x1="1802.63" y1="1417" x2="1802.63" y2="1445.0" stroke="#000" stroke-width="5"/><text transform="translate(1802.13 1510.3) scale(1 1.0377)" font-size="64" text-anchor="middle">2600</text><line x1="1927.82" y1="1417" x2="1927.82" y2="1431.5" stroke="#000" stroke-width="5"/><line x1="2053.00" y1="1417" x2="2053.00" y2="1445.0" stroke="#000" stroke-width="5"/><text transform="translate(2052.50 1510.3) scale(1 1.0377)" font-size="64" text-anchor="middle">2800</text><text transform="translate(1330.71 131.00) scale(1.0154 1.0377)" font-size="68.5">FlaxCPG+2%</text><text transform="translate(1333.75 215.50) scale(1.0181 1.0377)" font-size="68.5">GNPs</text><text transform="translate(1331.05 301.90) scale(1.0246 1.0377)" font-size="68.5">Flax</text><text transform="translate(450.55 99.40) scale(1.0156 1.0377)" font-size="67" font-weight="bold">G</text><text transform="translate(225.22 454.40) scale(1.0200 1.0377)" font-size="65.5" font-weight="bold">D</text><text transform="translate(1839.20 127.60) scale(1.0000 1.0377)" font-size="67" font-weight="bold">2D</text><text transform="translate(772.50 1665.30) scale(1.0032 1.0377)" font-size="75.4">Wavenumber (cm<tspan dy="-34.8">-1</tspan><tspan dy="34.8">)</tspan></text><text transform="translate(74.10 1006.30) rotate(-90) scale(0.9998 1.0377)" font-size="75.7">Intensity (a.u.)</text><line x1="1157.5" y1="107.5" x2="1314.5" y2="107.5" stroke="#22228a" stroke-width="2.3"/><line x1="1157.5" y1="192.2" x2="1314.5" y2="192.2" stroke="#d45a64" stroke-width="2.3"/><line x1="1157.5" y1="278.6" x2="1314.5" y2="278.6" stroke="#333333" stroke-width="2.3"/></svg></body></html>
